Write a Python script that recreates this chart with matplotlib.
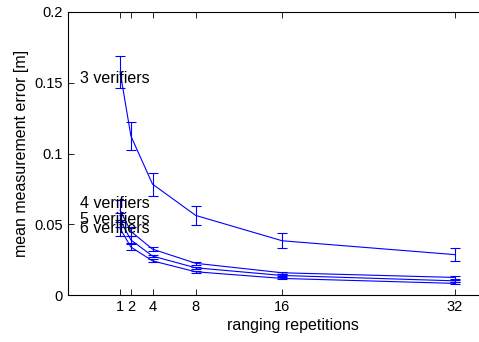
import numpy as np
import matplotlib
matplotlib.use("Agg")
import matplotlib.pyplot as plt

plt.rcParams["font.family"] = ["Liberation Sans", "DejaVu Sans"]

# ranging repetitions and mean error per verifier count
repetitions = [1, 2, 4, 8, 16, 32]

err_3 = [0.1578, 0.1124, 0.0784, 0.0563, 0.0384, 0.0286]
std_3 = [0.0113, 0.0100, 0.0082, 0.0067, 0.0054, 0.0048]

err_4 = [0.060, 0.045, 0.0325, 0.0225, 0.0158, 0.0125]
std_4 = [0.007, 0.003, 0.0012, 0.0010, 0.0008, 0.0008]

err_5 = [0.053, 0.039, 0.0276, 0.0193, 0.0139, 0.0101]
std_5 = [0.005, 0.0025, 0.0010, 0.0008, 0.0007, 0.0007]

err_6 = [0.047, 0.034, 0.0242, 0.0165, 0.0118, 0.0083]
std_6 = [0.005, 0.002, 0.0010, 0.0008, 0.0007, 0.0007]

series_labels = ["3 verifiers", "4 verifiers", "5 verifiers", "6 verifiers"]
label_y = [0.1527, 0.065, 0.0537, 0.0473]

y_ticks = [0, 0.05, 0.1, 0.15, 0.2]
y_tick_labels = ["0", "0.05", "0.1", "0.15", "0.2"]

# axes run past the right edge of the canvas, so the right spine is cut off
fig = plt.figure(figsize=(4.79, 3.42), dpi=100)
ax = fig.add_axes([0.1413, 0.137, 0.9396, 0.828])

for vals, errs in [(err_3, std_3), (err_4, std_4), (err_5, std_5), (err_6, std_6)]:
    ax.errorbar(repetitions, vals, yerr=errs, color="#0000ff", linewidth=0.8,
                elinewidth=0.8, capsize=3.5, capthick=0.8)

for text, y in zip(series_labels, label_y):
    ax.text(-2.7, y, text, fontsize=11.5, va="center", ha="left")

ax.set_xlim(-3.85, 37.8)
ax.set_ylim(0, 0.2)
ax.set_xticks(repetitions)
ax.set_yticks(y_ticks)
ax.set_yticklabels(y_tick_labels)
ax.tick_params(direction="in", top=True, right=True, labelsize=10.5, length=4, width=0.6)
for side in ax.spines.values():
    side.set_linewidth(0.8)

ax.set_xlabel("ranging repetitions", fontsize=11.5, labelpad=3)
ax.set_ylabel("mean measurement error [m]", fontsize=11.5, labelpad=4)

fig.savefig("out.png", dpi=100)
